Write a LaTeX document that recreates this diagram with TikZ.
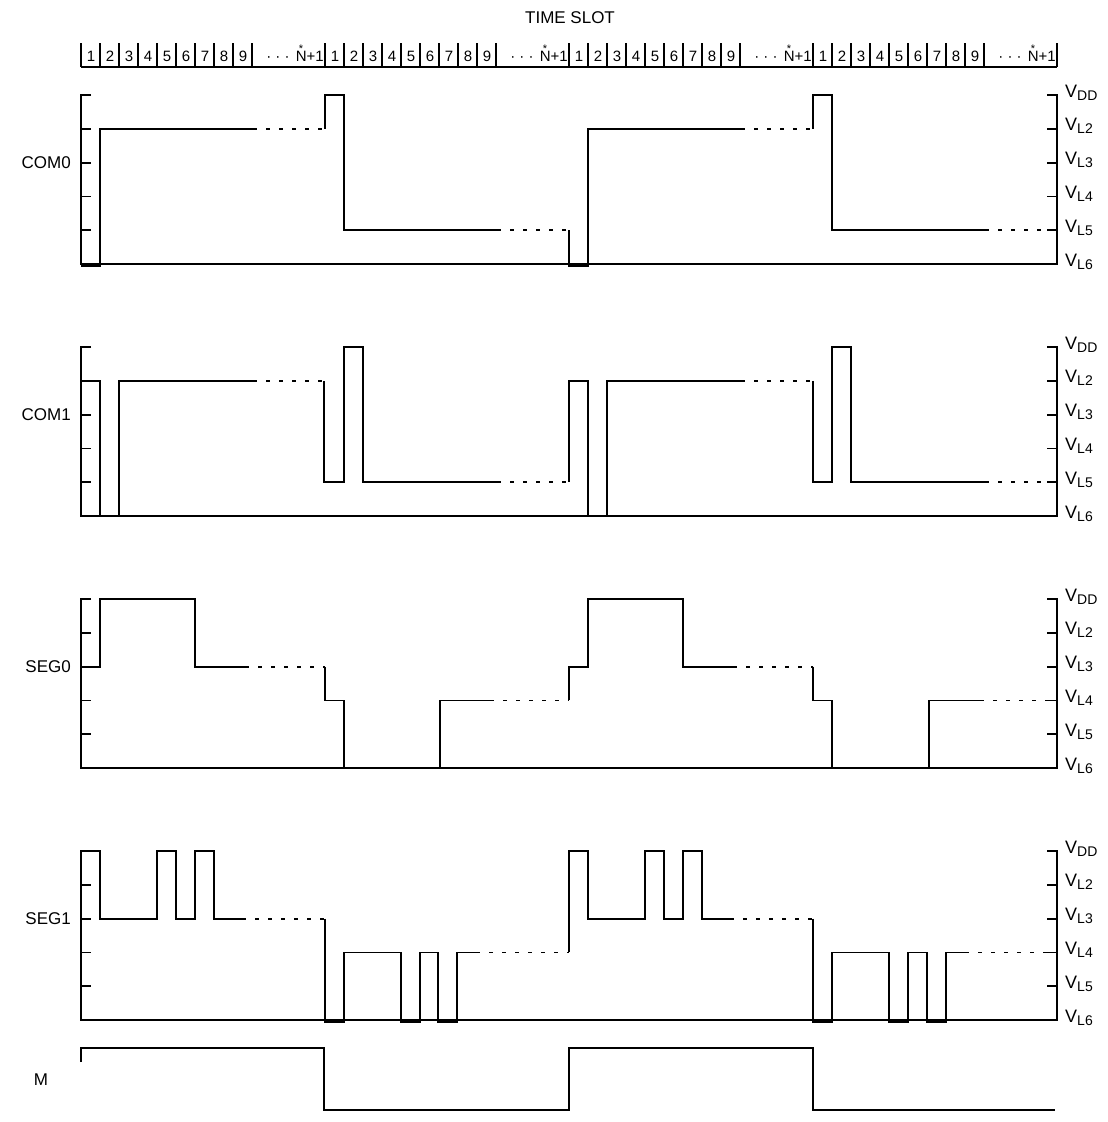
\documentclass[tikz,border=0pt]{standalone}
\usepackage{fontspec}
\setmainfont{Liberation Sans}
\newcommand\panelaxes{%
  \draw[axisline] (91,0) -- (81,0) -- (81,5) -- (1057,5) -- (1057,0) -- (1047,0);
  \foreach \k in {1,...,4} {\draw[axisline] (81,\k) -- (91,\k); \draw[axisline] (1047,\k) -- (1057,\k);}%
}
\begin{document}
\begin{tikzpicture}[x=1pt,y=-1pt,
  wave/.style={line width=1.8pt, line join=miter},
  dotseg/.style={line width=1.8pt, dash pattern=on 4pt off 9pt},
  axisline/.style={line width=1.8pt},
  lab/.style={font=\fontsize{17}{19}\selectfont, inner sep=0pt},
  vlab/.style={font=\fontsize{18}{20}\selectfont, inner sep=0pt, anchor=base west},
  num/.style={font=\fontsize{15}{17}\selectfont, inner sep=0pt},
]
\useasboundingbox (0,0) rectangle (1108,1122);

% header
\node[lab] (title) at (570,18) {TIME SLOT};
\draw[line width=1.8pt] (81,67) -- (1057,67);
\foreach \g in {81,325,569,813} {
  \foreach \k in {0,...,9} \draw[line width=1.4pt] ({\g+19*\k},43) -- ({\g+19*\k},67);
  \foreach \k in {1,...,9} \node[num,anchor=base] (n\g-\k) at ({\g+19*\k-9},61) {\k};
  \node[num,anchor=base] (d\g) at (\g+197,61) {· · ·};
  \node[num,anchor=base east] (np\g) at (\g+243,61) {N+1};
  \node[num,font=\fontsize{11}{11}\selectfont,anchor=south] (s\g) at ([xshift=5.4pt,yshift=-2pt]np\g.north west) {*};
}
\draw[line width=1.4pt] (1057,43) -- (1057,67);

% panels: axes and labels
\foreach \p/\t/\nm in {a/95pt/COM0, b/347pt/COM1, c/599pt/SEG0, d/851pt/SEG1} {
  \begin{scope}[yshift=-\t, y=-33.8pt]
    \panelaxes
    \node[lab,anchor=east] (lab\p) at (71,2) {\nm};
    \foreach \k/\s in {0/DD,1/L2,2/L3,3/L4,4/L5,5/L6}
      \node[vlab] (v\p\k) at (1065,\k+0.06) {V\raisebox{-3pt}{\fontsize{14}{15}\selectfont\s}};
  \end{scope}
}

% COM0
\begin{scope}[yshift=-95pt, y=-33.8pt]
  \draw[wave] (81,5.05) -- (100,5.05) -- (100,1) -- (253,1);
  \draw[dotseg] (253,1) -- (325,1);
  \draw[wave] (325,1) -- (325,0) -- (344,0) -- (344,4) -- (497,4);
  \draw[dotseg] (497,4) -- (569,4);
  \draw[wave] (569,4) -- (569,5.05) -- (588,5.05) -- (588,1) -- (741,1);
  \draw[dotseg] (741,1) -- (813,1);
  \draw[wave] (813,1) -- (813,0) -- (832,0) -- (832,4) -- (985,4);
  \draw[dotseg] (985,4) -- (1057,4);
\end{scope}

% COM1
\begin{scope}[yshift=-347pt, y=-33.8pt]
  \draw[wave] (81,1) -- (100,1) -- (100,5) -- (119,5) -- (119,1) -- (253,1);
  \draw[dotseg] (253,1) -- (324,1);
  \draw[wave] (324,1) -- (324,4) -- (344,4) -- (344,0) -- (363,0) -- (363,4) -- (497,4);
  \draw[dotseg] (497,4) -- (569,4);
  \draw[wave] (569,4) -- (569,1) -- (588,1) -- (588,5) -- (607,5) -- (607,1) -- (741,1);
  \draw[dotseg] (741,1) -- (813,1);
  \draw[wave] (813,1) -- (813,4) -- (832,4) -- (832,0) -- (851,0) -- (851,4) -- (985,4);
  \draw[dotseg] (985,4) -- (1057,4);
\end{scope}

% SEG0
\begin{scope}[yshift=-599pt, y=-33.8pt]
  \draw[wave] (81,2) -- (100,2) -- (100,0) -- (195,0) -- (195,2) -- (245,2);
  \draw[dotseg] (245,2) -- (325,2);
  \draw[wave] (325,2) -- (325,3) -- (344,3) -- (344,5) -- (440,5) -- (440,3) -- (490,3);
  \draw[dotseg] (490,3) -- (569,3);
  \draw[wave] (569,3) -- (569,2) -- (588,2) -- (588,0) -- (683,0) -- (683,2) -- (733,2);
  \draw[dotseg] (733,2) -- (813,2);
  \draw[wave] (813,2) -- (813,3) -- (832,3) -- (832,5) -- (929,5) -- (929,3) -- (980,3);
  \draw[dotseg] (980,3) -- (1057,3);
  \draw[wave] (1057,3) -- (1057,2);
\end{scope}

% SEG1
\begin{scope}[yshift=-851pt, y=-33.8pt]
  \draw[wave] (81,0) -- (100,0) -- (100,2) -- (157,2) -- (157,0) -- (176,0) -- (176,2) -- (195,2) -- (195,0) -- (214,0) -- (214,2) -- (242,2);
  \draw[dotseg] (242,2) -- (325,2);
  \draw[wave] (325,2) -- (325,5.05) -- (344,5.05) -- (344,3) -- (401,3) -- (401,5.05) -- (420,5.05) -- (420,3) -- (438,3) -- (438,5.05) -- (457,5.05) -- (457,3) -- (476,3);
  \draw[dotseg] (476,3) -- (569,3);
  \draw[wave] (569,3) -- (569,0) -- (588,0) -- (588,2) -- (645,2) -- (645,0) -- (664,0) -- (664,2) -- (683,2) -- (683,0) -- (702,0) -- (702,2) -- (730,2);
  \draw[dotseg] (730,2) -- (813,2);
  \draw[wave] (813,2) -- (813,5.05) -- (832,5.05) -- (832,3) -- (889,3) -- (889,5.05) -- (908,5.05) -- (908,3) -- (927,3) -- (927,5.05) -- (946,5.05) -- (946,3) -- (965,3);
  \draw[dotseg] (965,3) -- (1057,3);
\end{scope}

% M
\node[lab] (labm) at (41,1080) {M};
\draw[wave] (81,1062) -- (81,1048) -- (324,1048) -- (324,1110) -- (569,1110) -- (569,1048) -- (813,1048) -- (813,1110) -- (1055,1110);
\end{tikzpicture}
\end{document}
